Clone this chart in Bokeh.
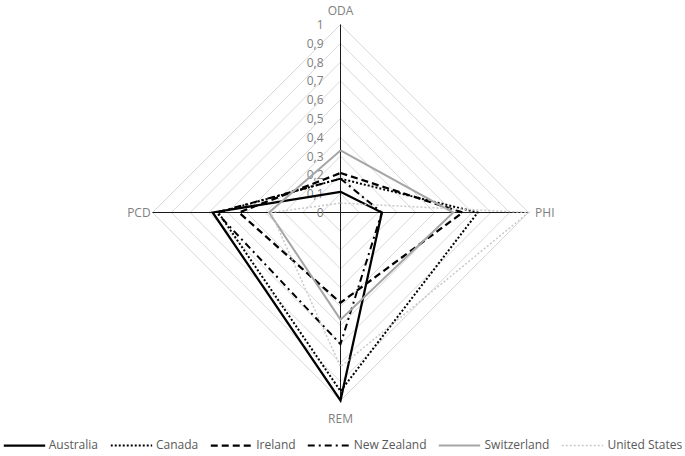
import numpy as np
from bokeh.plotting import figure
from bokeh.models import Range1d, Legend, LegendItem
from bokeh.core.properties import value
from bokeh.embed import file_html
from bokeh.resources import INLINE

FONT = "Open Sans"
GRID_COLOUR = "#d9d9d9"
TEXT_COLOUR = "#808080"
LEGEND_COLOUR = "#595959"

# spokes, clockwise from the top
AXES = ["ODA", "PHI", "REM", "PCD"]
ANGLES = [90, 0, -90, 180]

TICKS = [0, 0.1, 0.2, 0.3, 0.4, 0.5, 0.6, 0.7, 0.8, 0.9, 1]
TICK_LABELS = ["0", "0,1", "0,2", "0,3", "0,4", "0,5", "0,6", "0,7", "0,8", "0,9", "1"]

# values per spoke: ODA, PHI, REM, PCD
australia = [0.11, 0.22, 1.00, 0.68]
canada = [0.18, 0.73, 0.95, 0.65]
ireland = [0.21, 0.65, 0.48, 0.54]
new_zealand = [0.18, 0.22, 0.70, 0.66]
switzerland = [0.33, 0.60, 0.57, 0.38]
united_states = [0.05, 1.00, 0.82, 0.37]

SERIES = [
    ("Australia", australia, "#000000", 2.25, "solid"),
    ("Canada", canada, "#000000", 2.0, "2 2"),
    ("Ireland", ireland, "#000000", 2.25, "7 4"),
    ("New Zealand", new_zealand, "#000000", 2.0, "7 4 2 4"),
    ("Switzerland", switzerland, "#a6a6a6", 2.0, "solid"),
    ("United States", united_states, "#c8c8c8", 1.5, "2 2"),
]

W, H = 685, 456
SCALE = 188.0  # px per unit radius
CX, CY = 340, 212  # centre in canvas px


def to_xy(values):
    a = np.radians(ANGLES)
    v = np.asarray(values, dtype=float)
    x = v * np.cos(a)
    y = v * np.sin(a)
    return np.append(x, x[0]), np.append(y, y[0])


p = figure(
    width=W,
    height=H,
    output_backend="svg",
    toolbar_location=None,
    tools="",
    x_range=Range1d(-CX / SCALE, (W - CX) / SCALE),
    y_range=Range1d(-(H - CY) / SCALE, CY / SCALE),
    min_border=0,
)
p.axis.visible = False
p.grid.visible = False
p.outline_line_color = None
p.background_fill_color = "white"

# diamond rings
for t in TICKS[1:]:
    gx, gy = to_xy([t] * len(AXES))
    p.line(gx, gy, line_color=GRID_COLOUR, line_width=1)

# spokes
a = np.radians(ANGLES)
p.multi_line(
    xs=[[0, np.cos(r)] for r in a],
    ys=[[0, np.sin(r)] for r in a],
    line_color="#1a1a1a",
    line_width=1,
)

# tick labels up the ODA spoke
p.text(
    x=[-17 / SCALE] * len(TICKS),
    y=TICKS,
    text=TICK_LABELS,
    text_font=value(FONT),
    text_font_size="12px",
    text_color=TEXT_COLOUR,
    text_align="right",
    text_baseline="middle",
)

# spoke names
p.text(x=[0], y=[1.073], text=[AXES[0]], text_font=value(FONT), text_font_size="12px",
       text_color=TEXT_COLOUR, text_align="center", text_baseline="middle")
p.text(x=[1.035], y=[0], text=[AXES[1]], text_font=value(FONT), text_font_size="12px",
       text_color=TEXT_COLOUR, text_align="left", text_baseline="middle")
p.text(x=[0], y=[-1.095], text=[AXES[2]], text_font=value(FONT), text_font_size="12px",
       text_color=TEXT_COLOUR, text_align="center", text_baseline="middle")
p.text(x=[-1.01], y=[0], text=[AXES[3]], text_font=value(FONT), text_font_size="12px",
       text_color=TEXT_COLOUR, text_align="right", text_baseline="middle")

items = []
for name, vals, colour, width, dash in SERIES:
    sx, sy = to_xy(vals)
    r = p.line(sx, sy, line_color=colour, line_width=width, line_dash=dash,
               line_join="miter")
    items.append(LegendItem(label=name, renderers=[r]))

legend = Legend(
    items=items,
    orientation="horizontal",
    location="bottom_center",
    label_text_font=FONT,
    label_text_font_size="12px",
    label_text_color=LEGEND_COLOUR,
    glyph_width=42,
    glyph_height=12,
    label_height=12,
    label_standoff=4,
    spacing=12,
    padding=0,
    margin=3,
    border_line_alpha=0,
    background_fill_alpha=0,
)
p.add_layout(legend)

open("out.html", "w").write(file_html(p, INLINE))
